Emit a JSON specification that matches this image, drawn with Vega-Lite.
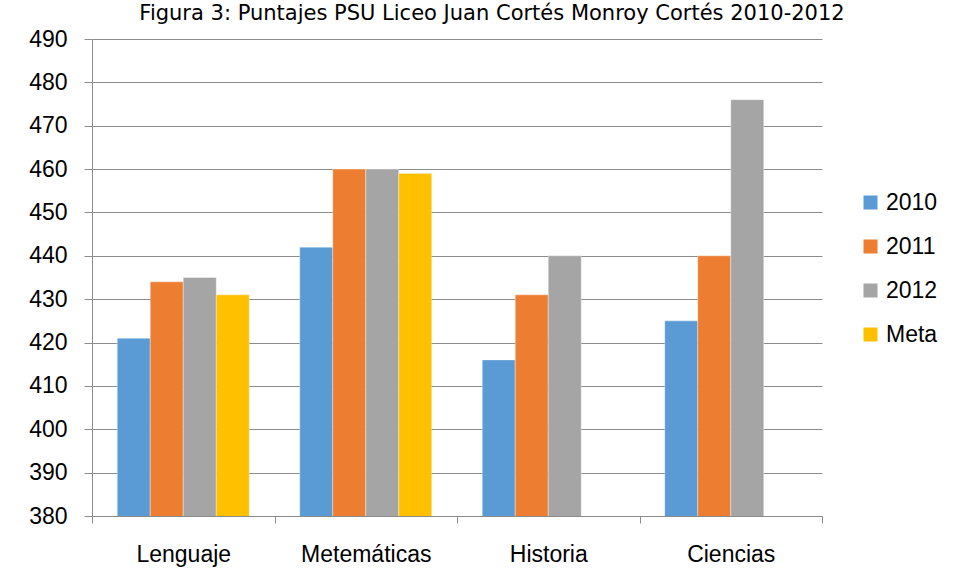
{
  "$schema": "https://vega.github.io/schema/vega-lite/v6.json",
  "width": 730,
  "height": 477,
  "autosize": "none",
  "padding": {"left": 92, "top": 39, "right": 134, "bottom": 63},
  "background": "white",
  "title": {
    "text": "Figura 3: Puntajes PSU Liceo Juan Cortés Monroy Cortés 2010-2012",
    "font": "DejaVu Sans",
    "fontSize": 21,
    "fontWeight": "normal",
    "color": "#000000",
    "offset": 4,
    "dx": 35,
    "anchor": "middle"
  },
  "data": {
    "values": [
      {"materia": "Lenguaje", "serie": "2010", "puntaje": 421},
      {"materia": "Lenguaje", "serie": "2011", "puntaje": 434},
      {"materia": "Lenguaje", "serie": "2012", "puntaje": 435},
      {"materia": "Lenguaje", "serie": "Meta", "puntaje": 431},
      {"materia": "Metemáticas", "serie": "2010", "puntaje": 442},
      {"materia": "Metemáticas", "serie": "2011", "puntaje": 460},
      {"materia": "Metemáticas", "serie": "2012", "puntaje": 460},
      {"materia": "Metemáticas", "serie": "Meta", "puntaje": 459},
      {"materia": "Historia", "serie": "2010", "puntaje": 416},
      {"materia": "Historia", "serie": "2011", "puntaje": 431},
      {"materia": "Historia", "serie": "2012", "puntaje": 440},
      {"materia": "Ciencias", "serie": "2010", "puntaje": 425},
      {"materia": "Ciencias", "serie": "2011", "puntaje": 440},
      {"materia": "Ciencias", "serie": "2012", "puntaje": 476}
    ]
  },
  "mark": {"type": "bar", "stroke": "#ffffff", "strokeWidth": 0.6, "strokeOpacity": 0.6, "clip": true},
  "encoding": {
    "x": {
      "field": "materia",
      "type": "nominal",
      "sort": ["Lenguaje", "Metemáticas", "Historia", "Ciencias"],
      "scale": {"paddingInner": 0, "paddingOuter": 0},
      "axis": {
        "title": null,
        "labelAngle": 0,
        "labelFont": "Liberation Sans",
        "labelFontSize": 23,
        "labelColor": "#000000",
        "labelPadding": 20,
        "tickBand": "extent",
        "tickSize": 7,
        "tickColor": "#8c8c8c",
        "domainColor": "#8c8c8c",
        "grid": false
      }
    },
    "xOffset": {
      "field": "serie",
      "type": "nominal",
      "sort": ["2010", "2011", "2012", "Meta"],
      "scale": {"paddingInner": 0, "paddingOuter": 0.765}
    },
    "y": {
      "field": "puntaje",
      "type": "quantitative",
      "scale": {"domain": [380, 490], "zero": false, "nice": false},
      "axis": {
        "title": null,
        "values": [380, 390, 400, 410, 420, 430, 440, 450, 460, 470, 480, 490],
        "labelFont": "Liberation Sans",
        "labelFontSize": 23,
        "labelColor": "#000000",
        "labelPadding": 17,
        "tickSize": 8,
        "tickColor": "#8c8c8c",
        "domainColor": "#8c8c8c",
        "gridColor": "#8c8c8c",
        "gridWidth": 1
      }
    },
    "color": {
      "field": "serie",
      "type": "nominal",
      "sort": ["2010", "2011", "2012", "Meta"],
      "scale": {
        "domain": ["2010", "2011", "2012", "Meta"],
        "range": ["#5B9BD5", "#ED7D31", "#A5A5A5", "#FFC000"]
      },
      "legend": {
        "title": null,
        "orient": "none",
        "legendX": 767,
        "legendY": 152,
        "symbolType": "square",
        "symbolSize": 196,
        "symbolStrokeWidth": 0,
        "labelFont": "Liberation Sans",
        "labelFontSize": 23,
        "labelColor": "#000000",
        "labelOffset": 4,
        "rowPadding": 20,
        "labelLimit": 200
      }
    }
  },
  "config": {
    "view": {"stroke": null}
  }
}
